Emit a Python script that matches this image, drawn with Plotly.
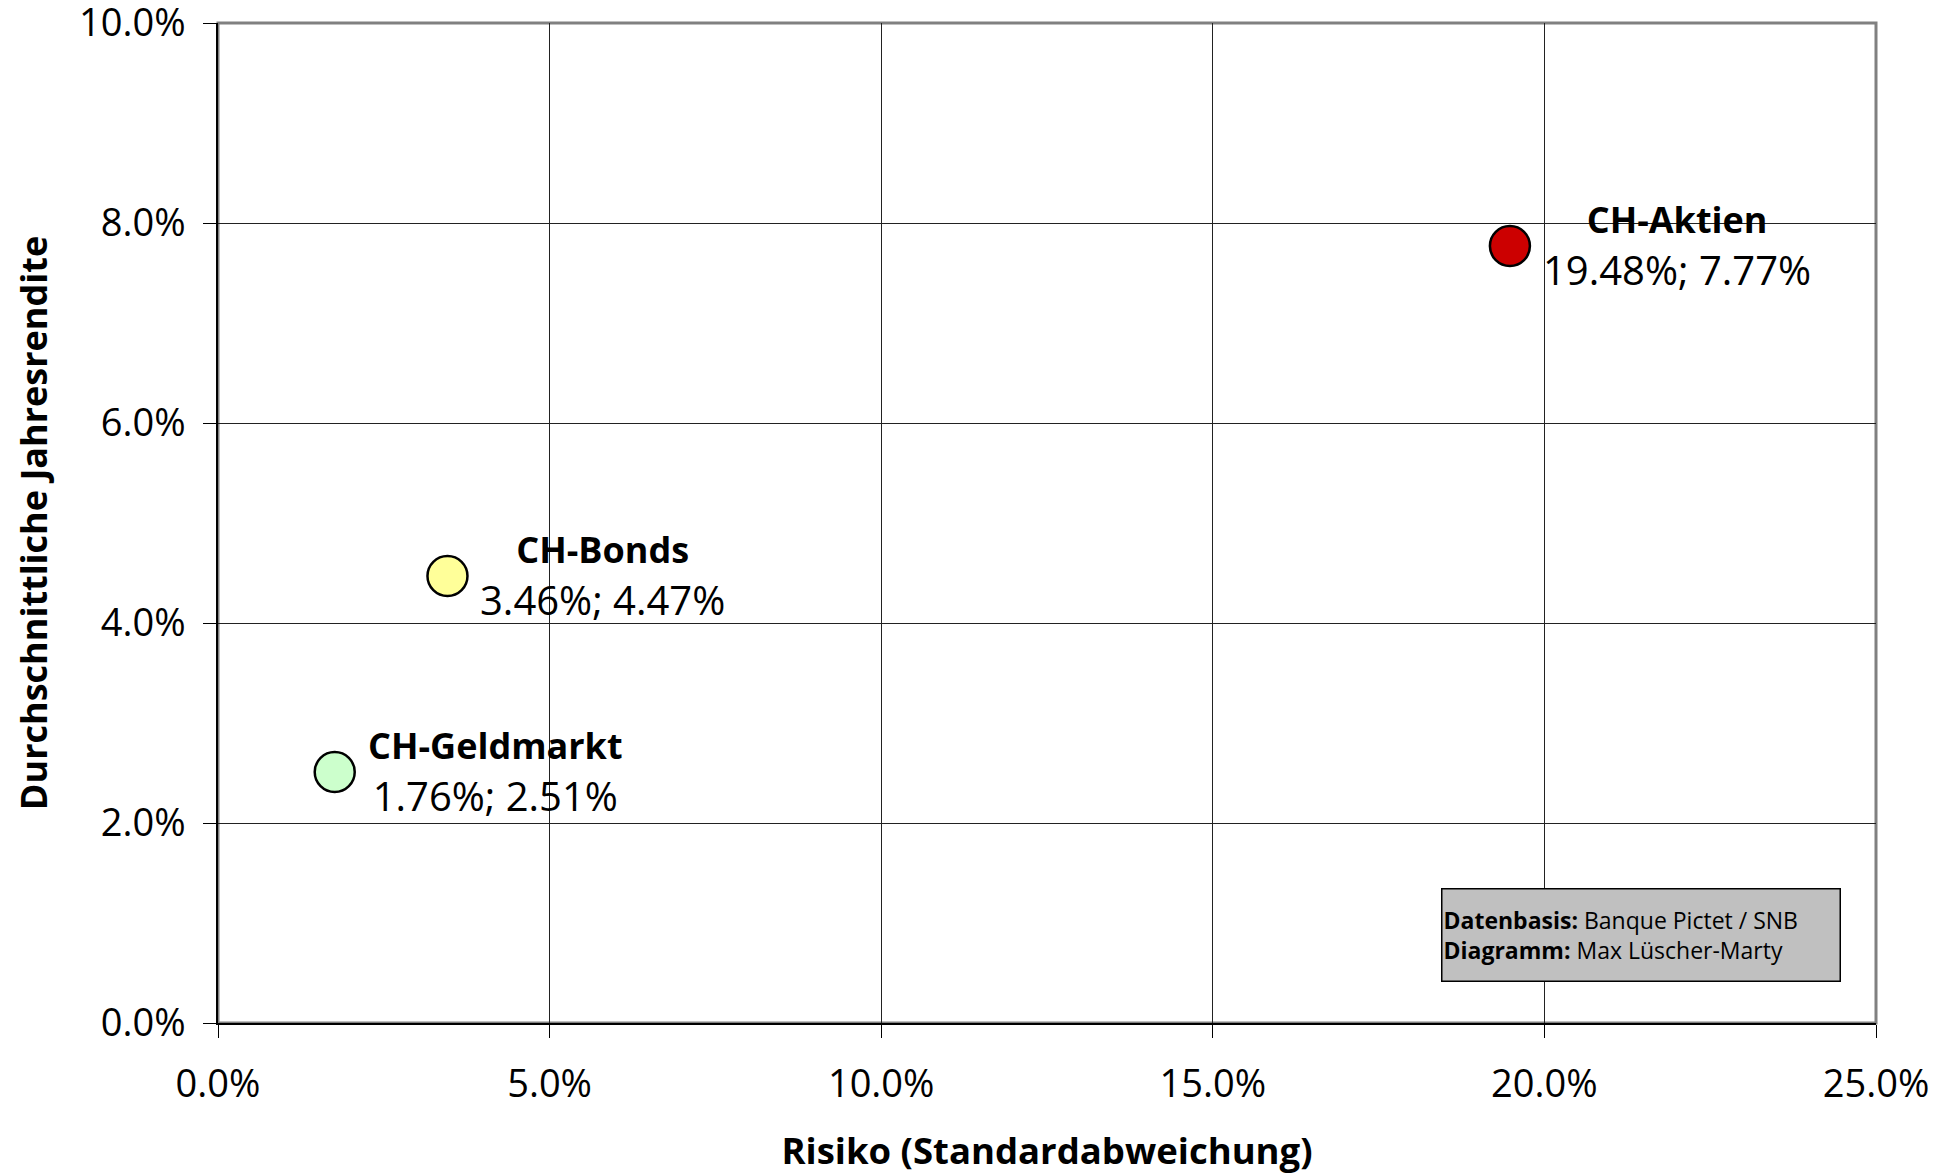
import plotly.graph_objects as go

# Data
names = ["CH-Geldmarkt", "CH-Bonds", "CH-Aktien"]
risk = [1.76, 3.46, 19.48]          # Standardabweichung in %
ret = [2.51, 4.47, 7.77]            # Durchschnittliche Jahresrendite in %
colors = ["#CCFFCC", "#FFFF99", "#CC0000"]
x_ticks = [0, 5, 10, 15, 20, 25]
y_ticks = [0, 2, 4, 6, 8, 10]
x_ticktext = [f"{v:.1f}%" for v in x_ticks]
y_ticktext = [f"{v:.1f}%" for v in y_ticks]

FONT = "Open Sans"

fig = go.Figure()
fig.add_trace(go.Scatter(
    x=risk, y=ret, mode="markers",
    marker=dict(size=40, color=colors, line=dict(color="black", width=2.5)),
    showlegend=False, hoverinfo="skip",
))

annotations = []
for n, xv, yv in zip(names, risk, ret):
    annotations.append(dict(
        x=xv, y=yv, xref="x", yref="y",
        text=f"<b><span style='font-size:36px'>{n}</span></b><br>{xv:.2f}%; {yv:.2f}%",
        showarrow=False, xanchor="left", yanchor="middle",
        xshift=31, yshift=0, align="center",
        font=dict(family=FONT, size=40, color="black"),
    ))

annotations.append(dict(
    x=0.7376, y=0.088, xref="paper", yref="paper",
    text="<b>Datenbasis:</b> Banque Pictet / SNB<br><b>Diagramm:</b> Max Lüscher-Marty",
    showarrow=False, xanchor="left", yanchor="middle", align="left",
    width=395, height=89, bgcolor="#C0C0C0", bordercolor="black",
    borderwidth=1.5, borderpad=1,
    font=dict(family=FONT, size=23, color="black"),
))

fig.add_shape(type="rect", xref="paper", yref="paper", x0=0, y0=0, x1=1, y1=1,
              line=dict(color="#808080", width=3), layer="below")

axis_common = dict(
    showgrid=True, gridcolor="#222222", gridwidth=1,
    showline=True, linecolor="black", linewidth=1.5,
    ticks="outside", ticklen=13, tickcolor="black", tickwidth=1,
    zeroline=False, tickmode="array",
    tickfont=dict(family=FONT, size=38, color="black"),
    ticklabeloverflow="allow",
)

fig.update_xaxes(range=[0, 25], tickvals=x_ticks, ticktext=x_ticktext, **axis_common,
                 ticklabelstandoff=14,
                 title=dict(text="<b>Risiko (Standardabweichung)</b>",
                            font=dict(family=FONT, size=36.5, color="black"),
                            standoff=32))
fig.update_yaxes(range=[0, 10], tickvals=y_ticks, ticktext=y_ticktext, **axis_common,
                 ticklabelstandoff=10,
                 title=dict(text="<b>Durchschnittliche Jahresrendite</b>",
                            font=dict(family=FONT, size=36, color="black"),
                            standoff=20))

fig.update_layout(
    width=1957, height=1175,
    margin=dict(l=218, r=81, t=23, b=152, autoexpand=False),
    plot_bgcolor="white", paper_bgcolor="white",
    annotations=annotations,
    font=dict(family=FONT),
)

fig.write_html("out.html", config={"displayModeBar": False},
               post_script="document.body.style.margin='0';document.body.style.overflow='hidden';")
